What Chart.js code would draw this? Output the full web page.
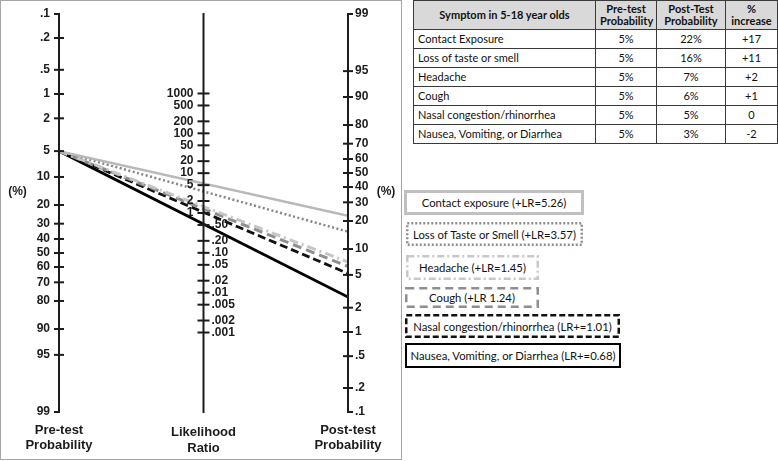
<!DOCTYPE html>
<html>
<head>
<meta charset="utf-8">
<title>Fagan nomogram - symptoms in 5-18 year olds</title>
<script src="https://cdn.jsdelivr.net/npm/chart.js@4.4.1/dist/chart.umd.min.js"></script>
<style>
  body { margin: 0; background: #fff; width: 778px; height: 461px; overflow: hidden; position: relative; }
  #panel { position: absolute; left: 0; top: 0; width: 400px; height: 458px; border: 1px solid #a6a6a6; }
  #tbl { position: absolute; left: 413px; top: 0; width: 364px; border-collapse: collapse; table-layout: fixed;
         font-family: Lato, 'Open Sans', sans-serif; font-size: 11px; color: #111; }
  #tbl th, #tbl td { border: 1px solid #3a3a3a; padding: 0 4px; }
  #tbl th { background: #d9d9d9; height: 28px; line-height: 12px; font-weight: bold; text-align: center; }
  #tbl td { height: 18px; line-height: 12px; }
  #tbl td + td { text-align: center; }
  .leg { position: absolute; display: flex; align-items: center; justify-content: center;
         font-family: Lato, 'Open Sans', sans-serif; font-size: 11.3px; color: #111; }
  .leg svg { position: absolute; left: 0; top: 0; }
  .leg span { position: relative; }
</style>
</head>
<body>
<div id="panel"><canvas id="nomogram"></canvas></div>
<table id="tbl">
  <colgroup><col style="width:182px"><col style="width:61px"><col style="width:69px"><col style="width:52px"></colgroup>
  <thead>
    <tr><th>Symptom in 5-18 year olds</th><th>Pre-test<br>Probability</th><th>Post-Test<br>Probability</th><th>%<br>increase</th></tr>
  </thead>
  <tbody id="tbody"></tbody>
</table>
<div id="legend"></div>
<script>
// ---- data ----
const symptoms = ['Contact Exposure', 'Loss of taste or smell', 'Headache', 'Cough',
  'Nasal congestion/rhinorrhea', 'Nausea, Vomiting, or Diarrhea'];
const legendLabels = ['Contact exposure (+LR=5.26)', 'Loss of Taste or Smell (+LR=3.57)', 'Headache (+LR=1.45)',
  'Cough (+LR 1.24)', 'Nasal congestion/rhinorrhea (LR+=1.01)', 'Nausea, Vomiting, or Diarrhea (LR+=0.68)'];
const preTestPct = [5, 5, 5, 5, 5, 5];
const postTestPct = [22, 16, 7, 6, 5, 3];
const increase = ['+17', '+11', '+2', '+1', '0', '-2'];
// post-test probability where each drawn line meets the right axis
const lineEndPct = [22.5, 15.5, 7.1, 6.3, 5.2, 2.7];

const preTicks = [0.1, 0.2, 0.5, 1, 2, 5, 10, 20, 30, 40, 50, 60, 70, 80, 90, 95, 99];
const postTicks = [99, 95, 90, 80, 70, 60, 50, 40, 30, 20, 10, 5, 2, 1, 0.5, 0.2, 0.1];
const lrTicks = [1000, 500, 200, 100, 50, 20, 10, 5, 2, 1, 0.5, 0.2, 0.1, 0.05, 0.02, 0.01, 0.005, 0.002, 0.001];
const lrTickLabels = ['1000', '500', '200', '100', '50', '20', '10', '5', '2', '1',
  '.50', '.20', '.10', '.05', '.02', '.01', '.005', '.002', '.001'];

// ---- styles ----
const lineColors = ['#b9b9b9', '#858585', '#c6c6c6', '#8e8e8e', '#111111', '#000000'];
const lineDash = [[], [2, 2.5], [9, 4, 2, 4], [9, 5], [8, 4], []];
const lineWidths = [2.5, 2.5, 3, 3, 2.8, 2.8];
const boxDash = ['', '2 2', '7 3 2 3', '8 5', '6 3', ''];
const boxColors = ['#c0c0c0', '#8f8f8f', '#c8c8c8', '#8e8e8e', '#111', '#000'];
const boxWidths = [3, 2.5, 2.5, 2.5, 2.5, 2];
const boxRects = [[404, 190, 180, 25], [406, 222, 177, 24], [406, 255, 133, 25],
  [405, 287, 134, 21], [405, 314, 215, 24], [405, 343, 216, 25]];

// ---- table ----
const tbody = document.getElementById('tbody');
symptoms.forEach((s, i) => {
  const tr = document.createElement('tr');
  [s, preTestPct[i] + '%', postTestPct[i] + '%', increase[i]].forEach(v => {
    const td = document.createElement('td');
    td.textContent = v;
    tr.appendChild(td);
  });
  tbody.appendChild(tr);
});

// ---- legend boxes ----
const legend = document.getElementById('legend');
legendLabels.forEach((label, i) => {
  const [x, y, w, h] = boxRects[i];
  const sw = boxWidths[i];
  const div = document.createElement('div');
  div.className = 'leg';
  div.style.cssText = `left:${x}px;top:${y}px;width:${w}px;height:${h}px;`;
  div.innerHTML = `<svg width="${w}" height="${h}"><rect x="${sw / 2}" y="${sw / 2}" width="${w - sw}" height="${h - sw}"
    fill="none" stroke="${boxColors[i]}" stroke-width="${sw}" stroke-dasharray="${boxDash[i]}"/></svg>`;
  const span = document.createElement('span');
  span.textContent = label;
  div.appendChild(span);
  legend.appendChild(div);
});

// ---- nomogram ----
const logit = p => Math.log(p / (100 - p));
const LO = logit(0.1), HI = logit(99);
const probLabel = p => String(p).replace(/^0/, '');

// the right axis mirrors the left one, so a post-test value is placed on yPre as LO + HI - logit(post)
const datasets = symptoms.map((s, i) => ({
  label: s,
  data: [{ x: 0, y: logit(preTestPct[i]) }, { x: 1, y: LO + HI - logit(lineEndPct[i]) }],
  yAxisID: 'yPre',
  borderColor: lineColors[i],
  borderDash: lineDash[i],
  borderWidth: lineWidths[i],
  pointRadius: 0,
  fill: false,
  tension: 0
}));

const AXIS_FONT = 'bold 12px "Liberation Sans", Arial, sans-serif';
const TITLE_FONT = 'bold 13px "Liberation Sans", Arial, sans-serif';

const nomogramAxes = {
  id: 'nomogramAxes',
  afterDatasetsDraw(chart) {
    const { ctx, chartArea: { top, bottom }, scales: { x, yPre, yPost, yLR } } = chart;
    const xl = x.getPixelForValue(0), xm = x.getPixelForValue(0.5), xr = x.getPixelForValue(1);
    ctx.save();
    ctx.strokeStyle = '#1c1c1c';
    ctx.fillStyle = '#1c1c1c';
    ctx.lineWidth = 2;
    ctx.lineCap = 'butt';
    const seg = (x1, y1, x2, y2) => { ctx.beginPath(); ctx.moveTo(x1, y1); ctx.lineTo(x2, y2); ctx.stroke(); };
    [xl, xm, xr].forEach(px => seg(px, top - 1, px, bottom + 1));

    ctx.font = AXIS_FONT;
    ctx.textBaseline = 'middle';
    // pre-test axis
    ctx.textAlign = 'right';
    preTicks.forEach((p, i) => {
      const py = yPre.getPixelForValue(logit(p));
      const end = i === 0 || i === preTicks.length - 1;
      seg(xl - 5, py, end ? xl : xl + 5, py);
      ctx.fillText(probLabel(p), xl - 9, py);
    });
    // post-test axis
    ctx.textAlign = 'left';
    postTicks.forEach((p, i) => {
      const py = yPost.getPixelForValue(logit(p));
      const end = i === 0 || i === postTicks.length - 1;
      seg(end ? xr : xr - 5, py, xr + 5, py);
      ctx.fillText(probLabel(p), xr + 7, py);
    });
    // likelihood ratio axis
    lrTicks.forEach((lr, i) => {
      const py = yLR.getPixelForValue(lr);
      seg(xm - 6, py, xm + 6, py);
      if (lr >= 1) { ctx.textAlign = 'right'; ctx.fillText(lrTickLabels[i], xm - 10, py); }
      else { ctx.textAlign = 'left'; ctx.fillText(lrTickLabels[i], xm + 8, py); }
    });

    ctx.textAlign = 'center';
    ctx.fillText('(%)', 16.5, 191);
    ctx.fillText('(%)', xr + 38, 191);

    ctx.font = TITLE_FONT;
    ctx.fillText('Pre-test', xl, 429);
    ctx.fillText('Probability', xl, 444);
    ctx.fillText('Likelihood', xm, 431);
    ctx.fillText('Ratio', xm, 447);
    ctx.fillText('Post-test', xr, 429);
    ctx.fillText('Probability', xr, 444);
    ctx.restore();
  }
};

new Chart(document.getElementById('nomogram'), {
  type: 'line',
  data: { datasets },
  options: {
    responsive: true,
    maintainAspectRatio: false,
    animation: false,
    layout: { padding: { left: 58, right: 53, top: 13, bottom: 47 } },
    plugins: { legend: { display: false }, tooltip: { enabled: false } },
    scales: {
      x: { type: 'linear', min: 0, max: 1, display: false },
      yPre: { type: 'linear', min: LO, max: HI, reverse: true, display: false },
      yPost: { type: 'linear', min: LO, max: HI, display: false },
      yLR: { type: 'logarithmic', min: Math.exp(LO - HI), max: Math.exp(HI - LO), display: false }
    }
  },
  plugins: [nomogramAxes]
});
</script>
</body>
</html>
